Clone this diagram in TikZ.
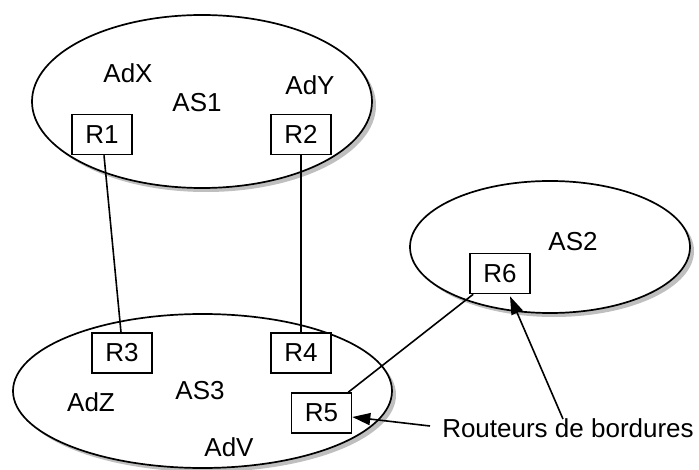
\documentclass[tikz,border=0pt]{standalone}
\usepackage{fontspec}
\setmainfont{Liberation Sans}
\usetikzlibrary{shadows,arrows.meta,shapes.geometric}

\tikzset{
  asarea/.style={draw, line width=1.7pt, fill=white, ellipse, inner sep=0pt,
    drop shadow={shadow xshift=4pt, shadow yshift=-4pt, opacity=0.25, fill=black}},
  router/.style={draw, line width=1.6pt, fill=white, rectangle,
    minimum width=60pt, minimum height=40pt, inner sep=0pt},
  txt/.style={inner sep=0pt},
  link/.style={line width=1.6pt},
  pointer/.style={line width=1.6pt, -{Triangle[length=18pt,width=12pt]}}
}

\begin{document}
\begin{tikzpicture}[x=1pt, y=-1pt, font=\fontsize{26}{31}\selectfont]
  \useasboundingbox (0,0) rectangle (699,470);

  % autonomous systems
  \node[asarea, minimum width=340pt, minimum height=173pt] (as1) at (202,101.5) {};
  \node[asarea, minimum width=280pt, minimum height=132pt] (as2) at (550,247) {};
  \node[asarea, minimum width=379pt, minimum height=154pt] (as3) at (202.5,391) {};

  % area labels
  \node[txt] (adx) at (128,73) {AdX};
  \node[txt] (as1l) at (197,103) {AS1};
  \node[txt] (ady) at (310,85) {AdY};
  \node[txt] (as2l) at (573,242) {AS2};
  \node[txt] (as3l) at (200,391) {AS3};
  \node[txt] (adz) at (91,402) {AdZ};
  \node[txt] (adv) at (229,447) {AdV};

  % routers
  \node[router] (r1) at (102,134.5) {R1};
  \node[router] (r2) at (301,134.5) {R2};
  \node[router] (r3) at (122,353) {R3};
  \node[router] (r4) at (301,353) {R4};
  \node[router] (r5) at (321.5,413) {R5};
  \node[router] (r6) at (500,273.5) {R6};

  % inter-AS links
  \draw[link] ([xshift=2pt]r1.south) -- ([xshift=-1pt]r3.north);
  \draw[link] (r2.south) -- (r4.north);
  \draw[link] ([xshift=4pt]r6.south west) -- ([xshift=-4pt]r5.north east);

  % border router annotation
  \node[txt] (lbl) at (568,428) {Routeurs de bordures};
  \coordinate (p5) at (430,426);
  \coordinate (p6) at (563,419);
  \draw[pointer] (p5) -- ([yshift=-4pt]r5.east);
  \draw[pointer] (p6) -- ([xshift=10pt,yshift=-2pt]r6.south);
\end{tikzpicture}
\end{document}
